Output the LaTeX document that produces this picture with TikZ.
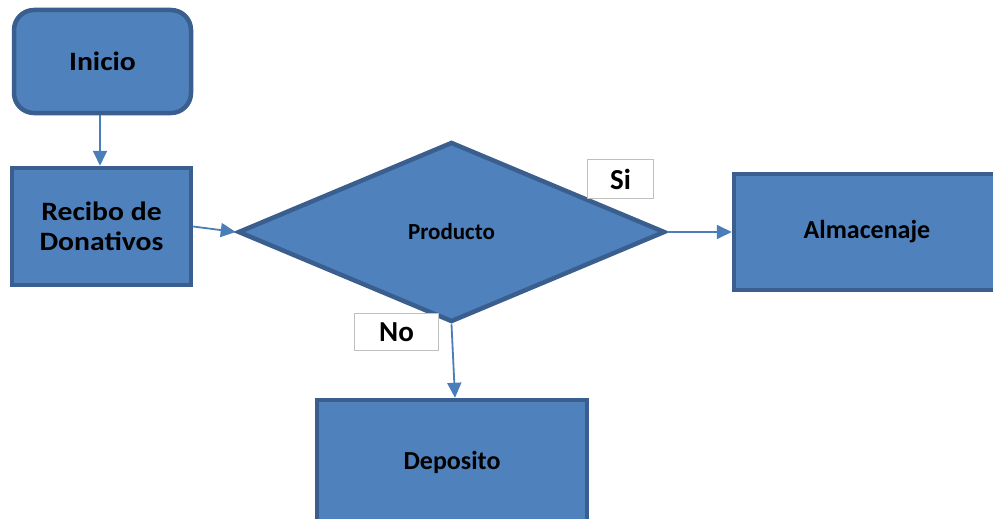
\documentclass[tikz,border=0pt]{standalone}
\usepackage{fontspec}
\setmainfont{Carlito}
\newfontfamily\widefont[FakeStretch=1.12]{Carlito}
\usetikzlibrary{shapes.geometric,arrows.meta}
\definecolor{boxfill}{HTML}{4F81BD}
\definecolor{boxline}{HTML}{3A5F8E}
\definecolor{arrowcol}{HTML}{4A7EBB}
\definecolor{labelline}{HTML}{BFBFBF}
\tikzset{
  block/.style={draw=boxline, fill=boxfill, line width=4.5pt, inner sep=0pt,
    align=center, font=\bfseries\fontsize{26}{30}\selectfont},
  wideblock/.style={block, font=\widefont\bfseries\fontsize{26.5}{30}\selectfont},
  startbox/.style={wideblock, rounded corners=20pt},
  decision/.style={block, diamond, font=\bfseries\fontsize{23}{26}\selectfont},
  tag/.style={draw=labelline, fill=white, line width=1.5pt, inner sep=0pt,
    font=\bfseries\fontsize{29}{32}\selectfont},
  flow/.style={draw=arrowcol, line width=1.8pt,
    -{Triangle[length=15pt,width=14pt]}},
}
\begin{document}
\begin{tikzpicture}[x=1pt,y=-1pt]
\useasboundingbox (0,0) rectangle (993,519);
\clip (0,0) rectangle (993,519);
\fill[white] (0,0) rectangle (993,519);

% process blocks
\node[startbox, minimum width=177pt, minimum height=103pt] (inicio) at (102.5,61.5) {Inicio};
\node[wideblock, minimum width=179pt, minimum height=117pt] (recibo) at (101.5,226.5) {Recibo de\\Donativos};
\node[decision, minimum width=427pt, minimum height=180pt] (producto) at (451.5,232) {Producto};
\node[block, minimum width=266pt, minimum height=116pt] (almacen) at (867,232) {Almacenaje};
\node[block, minimum width=270pt, minimum height=124pt] (deposito) at (452,462) {Deposito};

% branch labels
\node[tag, minimum width=66pt, minimum height=39pt] (si) at (620.5,179) {Si};
\node[tag, minimum width=84pt, minimum height=37pt] (no) at (396.5,332) {No};

% connectors
\draw[flow] (inicio.south -| 100,0) -- (recibo.north -| 100,0);
\draw[flow] (recibo.east) -- (producto.west);
\draw[flow] (producto.east) -- (almacen.west);
\coordinate (depin) at ([xshift=3pt]deposito.north);
\draw[flow] (producto.south) -- (depin);
\end{tikzpicture}
\end{document}
